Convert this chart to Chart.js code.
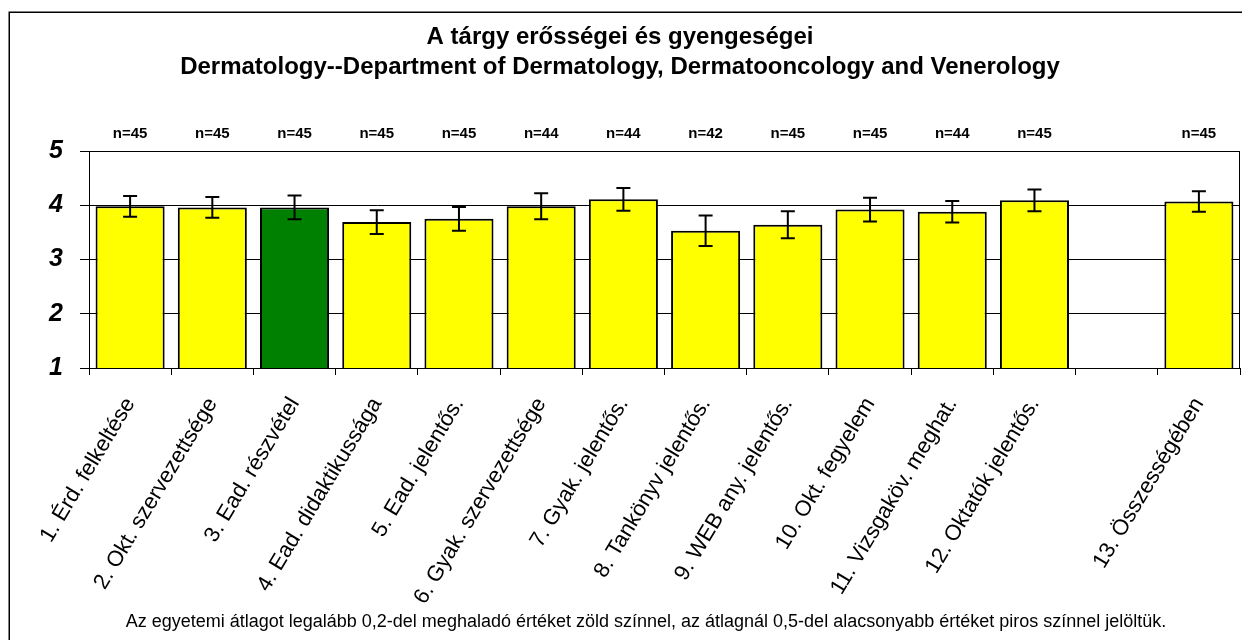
<!DOCTYPE html>
<html><head><meta charset="utf-8">
<script src="https://cdn.jsdelivr.net/npm/chart.js@4.4.1/dist/chart.umd.min.js"></script>
<style>html,body{margin:0;padding:0;background:#fff;}canvas{display:block;}</style>
</head><body>
<canvas id="c" width="1242" height="640"></canvas>
<script>
// ---- data ----
const categories = [
  '1. Érd. felkeltése', '2. Okt. szervezettsége', '3. Ead. részvétel', '4. Ead. didaktikussága',
  '5. Ead. jelentős.', '6. Gyak. szervezettsége', '7. Gyak. jelentős.', '8. Tankönyv jelentős.',
  '9. WEB any. jelentős.', '10. Okt. fegyelem', '11. Vizsgaköv. meghat.', '12. Oktatók jelentős.',
  '', '13. Összességében'
];
const means  = [3.98, 3.96, 3.96, 3.69, 3.75, 3.98, 4.11, 3.53, 3.64, 3.92, 3.88, 4.09, null, 4.07];
const errors = [0.19, 0.19, 0.22, 0.22, 0.22, 0.24, 0.21, 0.28, 0.25, 0.22, 0.20, 0.20, null, 0.19];
const counts = [45, 45, 45, 45, 45, 44, 44, 42, 45, 45, 44, 45, null, 45];
const highlighted = [false, false, true, false, false, false, false, false, false, false, false, false, false, false];
const yTickValues = [1, 2, 3, 4, 5];
const titleLines = ['A tárgy erősségei és gyengeségei',
  'Dermatology--Department of Dermatology, Dermatooncology and Venerology'];
const footnote = 'Az egyetemi átlagot legalább 0,2-del meghaladó értéket zöld színnel, az átlagnál 0,5-del alacsonyabb értéket piros színnel jelöltük.';

// ---- styles ----
const FAM = '"Liberation Sans", Arial, sans-serif';
const barColors = highlighted.map(h => h ? '#008000' : '#FFFF00');

const decor = {
  id: 'decor',
  beforeDraw(chart) {
    const {ctx, width, height} = chart;
    ctx.save();
    ctx.fillStyle = '#fff';
    ctx.fillRect(0, 0, width, height);
    ctx.strokeStyle = '#000';
    ctx.lineWidth = 1.5;
    ctx.strokeRect(9.25, 12.25, width + 50, height + 50);
    ctx.restore();
  },
  afterDatasetsDraw(chart) {
    const {ctx, chartArea} = chart;
    const ys = chart.scales.y;
    const meta = chart.getDatasetMeta(0);
    ctx.save();
    // plot frame top/right
    ctx.strokeStyle = '#000';
    ctx.lineWidth = 1;
    ctx.beginPath();
    ctx.moveTo(Math.round(chartArea.left) + 0.5, Math.round(chartArea.top) + 0.5);
    ctx.lineTo(Math.round(chartArea.right) - 0.5, Math.round(chartArea.top) + 0.5);
    ctx.lineTo(Math.round(chartArea.right) - 0.5, Math.round(chartArea.bottom) + 0.5);
    ctx.stroke();
    // error bars
    ctx.lineWidth = 2;
    means.forEach((m, i) => {
      if (m == null) return;
      const x = meta.data[i].x;
      const yt = ys.getPixelForValue(m + errors[i]);
      const yb = ys.getPixelForValue(m - errors[i]);
      ctx.beginPath();
      ctx.moveTo(x, yt); ctx.lineTo(x, yb);
      ctx.moveTo(x - 7, yt); ctx.lineTo(x + 7, yt);
      ctx.moveTo(x - 7, yb); ctx.lineTo(x + 7, yb);
      ctx.stroke();
    });
    // n labels
    ctx.fillStyle = '#000';
    ctx.font = 'bold 15px ' + FAM;
    ctx.textAlign = 'center';
    ctx.textBaseline = 'middle';
    counts.forEach((n, i) => {
      if (n == null) return;
      ctx.fillText('n=' + n, meta.data[i].x, chartArea.top - 17);
    });
    // footnote
    ctx.font = '18px ' + FAM;
    ctx.fillText(footnote, 646, 622);
    ctx.restore();
  }
};

new Chart(document.getElementById('c'), {
  type: 'bar',
  data: {
    labels: categories,
    datasets: [{
      data: means,
      backgroundColor: barColors,
      borderColor: '#000',
      borderWidth: 2,
      borderSkipped: false,
      barPercentage: 0.84,
      categoryPercentage: 1
    }]
  },
  options: {
    responsive: false,
    animation: false,
    devicePixelRatio: 1,
    layout: {padding: {left: 0, right: 2, top: 0, bottom: 28}},
    plugins: {
      legend: {display: false},
      tooltip: {enabled: false},
      title: {
        display: true,
        text: titleLines,
        color: '#000',
        font: {family: FAM, size: 24, weight: 'bold', lineHeight: 1.25},
        padding: {top: 22, bottom: 69}
      }
    },
    scales: {
      x: {
        offset: true,
        grid: {drawOnChartArea: false, offset: true, tickLength: 7, color: '#000'},
        border: {color: '#000', width: 1},
        ticks: {autoSkip: false, minRotation: 59, maxRotation: 59, padding: 18, color: '#000',
                font: {family: FAM, size: 22}},
        afterFit: s => { s.height = 244; }
      },
      y: {
        min: 1, max: 5,
        afterBuildTicks: s => { s.ticks = yTickValues.map(v => ({value: v})); },
        grid: {color: '#000', tickLength: 9},
        border: {color: '#000', width: 1},
        ticks: {padding: 17, color: '#000', font: {family: FAM, size: 25, weight: 'bold', style: 'italic'}},
        afterFit: s => { s.width = 89; }
      }
    }
  },
  plugins: [decor]
});
</script>
</body></html>
